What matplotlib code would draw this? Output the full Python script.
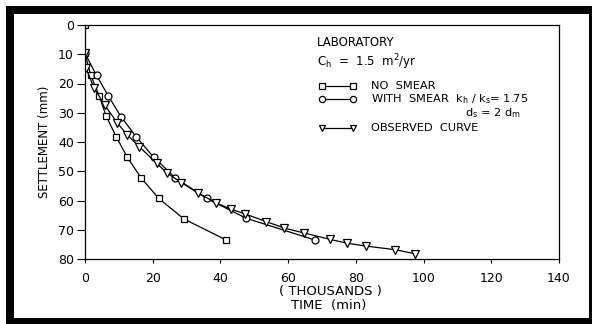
import matplotlib
matplotlib.use("Agg")
import matplotlib.pyplot as plt
from matplotlib.patches import Rectangle
from matplotlib.lines import Line2D

# time in thousands of minutes, settlement in mm
no_smear_t = [0, 0, 1.7, 4.2, 6.2, 9.2, 12.5, 16.5, 21.8, 29.2, 41.7]
no_smear_s = [0, 9.7, 17.2, 24.2, 31.0, 38.2, 45.2, 52.2, 59.3, 66.3, 73.5]

smear_t = [0, 3.4, 6.9, 10.6, 15.1, 20.3, 26.6, 35.9, 47.7, 67.9]
smear_s = [9.7, 17.2, 24.3, 31.3, 38.2, 45.2, 52.2, 59.3, 66.1, 73.5]

obs_t = [0, 0.3, 2.7, 5.9, 9.5, 12.5, 16.0, 21.2, 24.1, 28.5, 33.5, 38.7, 43.0,
         47.3, 53.5, 58.8, 64.7, 72.4, 77.4, 83.1, 91.5, 97.5]
obs_s = [9.7, 14.8, 21.6, 27.5, 33.4, 37.6, 41.6, 47.3, 50.5, 53.9, 57.5, 60.8, 62.9,
         64.6, 67.2, 69.4, 71.1, 73.3, 74.6, 75.6, 76.8, 78.2]

x_ticks = [0, 20, 40, 60, 80, 100, 120, 140]
y_ticks = [0, 10, 20, 30, 40, 50, 60, 70, 80]

plt.rcParams['font.family'] = ['DejaVu Sans']
fig = plt.figure(figsize=(5.92, 3.24), dpi=100)
ax = fig.add_axes([85 / 592, 1 - 259 / 324, 474 / 592, 234 / 324])

mk = dict(color='black', lw=0.9, mfc='white', mec='black', mew=0.9)
ax.plot(no_smear_t, no_smear_s, marker='s', ms=5, **mk)
ax.plot(smear_t, smear_s, marker='o', ms=5, **mk)
ax.plot(obs_t, obs_s, marker='v', ms=5.5, **mk)

ax.set_xlim(0, 140)
ax.set_ylim(80, 0)
ax.set_xticks(x_ticks)
ax.set_yticks(y_ticks)
ax.tick_params(axis='x', direction='out', length=3, width=0.8, labelsize=9, pad=6)
ax.tick_params(axis='y', direction='out', length=6, width=0.8, labelsize=9, pad=2)
for sp in ax.spines.values():
    sp.set_linewidth(0.9)
ax.set_ylabel('SETTLEMENT (mm)', fontsize=8.5, labelpad=5)

fig.text(330 / 592, 1 - 291 / 324, '( THOUSANDS )', ha='center', va='center', fontsize=9.5)
fig.text(329 / 592, 1 - 306 / 324, 'TIME  (min)', ha='center', va='center', fontsize=9.5)

# legend block drawn by hand, like the original figure
fig.text(317 / 592, 1 - 43 / 324, 'LABORATORY', ha='left', va='center', fontsize=8.5)
fig.text(317 / 592, 1 - 62 / 324, r'C$_\mathregular{h}$  =  1.5  m$^\mathregular{2}$/yr',
         ha='left', va='center', fontsize=8.5)
rows = [(86, 's', 'NO  SMEAR'),
        (99.5, 'o', r'WITH  SMEAR  k$_\mathregular{h}$ / k$_\mathregular{s}$= 1.75'),
        (128, 'v', 'OBSERVED  CURVE')]
for y, m, label in rows:
    yf = 1 - y / 324
    fig.add_artist(Line2D([322 / 592, 353 / 592], [yf, yf], transform=fig.transFigure,
                          marker=m, ms=4.5, **mk))
    fig.text(371 / 592, yf, label, ha='left', va='center', fontsize=8.2)
fig.text(465 / 592, 1 - 113.5 / 324, r'd$_\mathregular{s}$ = 2 d$_\mathregular{m}$',
         ha='left', va='center', fontsize=8.2)

# thick black frame of the scanned figure
for (x0, y0, w, h) in [(6, 6, 586, 8), (6, 6, 8, 318), (6, 318, 586, 6), (589, 6, 3, 318)]:
    fig.add_artist(Rectangle((x0 / 592, 1 - (y0 + h) / 324), w / 592, h / 324,
                             transform=fig.transFigure, color='black', lw=0))

fig.savefig('out.png', dpi=100)
